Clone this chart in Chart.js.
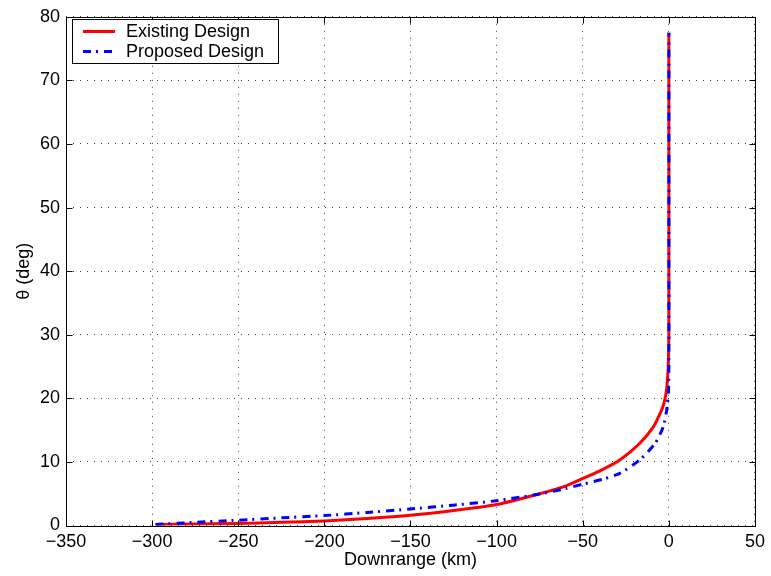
<!DOCTYPE html>
<html>
<head>
<meta charset="utf-8">
<script src="https://cdn.jsdelivr.net/npm/chart.js@4.4.1/dist/chart.umd.min.js"></script>
<style>
  html, body { margin: 0; padding: 0; background: #fff; }
  #wrap { width: 771px; height: 576px; }
</style>
</head>
<body>
<div id="wrap"><canvas id="chartTheta" width="771" height="576"></canvas></div>
<script>
// Downrange (km) vs flight-path angle theta (deg)
const existingX = [-298, -275, -250, -225, -200, -175, -150, -125, -100, -75, -60, -50, -40, -28.5, -17, -9, -4.3, -2.8, -1.7, -1, -0.4, -0.15, 0, 0];
const existingY = [0.15, 0.22, 0.32, 0.5, 0.72, 1.1, 1.6, 2.35, 3.3, 5.0, 6.2, 7.4, 8.6, 10.3, 12.9, 15.5, 18.1, 19.3, 20.7, 22.3, 24.8, 27.5, 30, 77.5];

const proposedX = [-298, -275, -250, -225, -200, -175, -150, -125, -100, -75, -60, -50, -38, -28.5, -17, -8, -3.3, -1.3, -0.2, 0, 0];
const proposedY = [0.15, 0.5, 0.83, 1.2, 1.56, 2.05, 2.6, 3.2, 3.9, 4.95, 5.8, 6.5, 7.3, 8.2, 10.3, 12.9, 15.5, 18.1, 21.2, 25, 77.5];

const seriesLabels = ["Existing Design", "Proposed Design"];
const xTicks = [-350, -300, -250, -200, -150, -100, -50, 0, 50];
const yTicks = [0, 10, 20, 30, 40, 50, 60, 70, 80];

const FONT = "'Liberation Sans', Arial, Helvetica, sans-serif";

function toPoints(xs, ys) {
  return xs.map((x, i) => ({ x, y: ys[i] }));
}

function fmt(v) {
  return v < 0 ? "\u2212" + Math.abs(v) : String(v);
}

// frame, inward ticks and the boxed legend, MATLAB style
const framePlugin = {
  id: "frame",
  afterDatasetsDraw(chart) {
    const { ctx, chartArea: a, scales } = chart;
    ctx.save();
    ctx.strokeStyle = "#000";
    ctx.lineWidth = 1;
    ctx.setLineDash([]);
    const L = Math.round(a.left) + 0.5, R = Math.round(a.right) + 0.5;
    const T = Math.round(a.top) + 0.5, B = Math.round(a.bottom) + 0.5;
    ctx.strokeRect(L, T, R - L, B - T);

    const len = 6;
    ctx.beginPath();
    xTicks.forEach((v) => {
      const px = Math.round(scales.x.getPixelForValue(v)) + 0.5;
      ctx.moveTo(px, B); ctx.lineTo(px, B - len);
      ctx.moveTo(px, T); ctx.lineTo(px, T + len);
    });
    yTicks.forEach((v) => {
      const py = Math.round(scales.y.getPixelForValue(v)) + 0.5;
      ctx.moveTo(L, py); ctx.lineTo(L + len, py);
      ctx.moveTo(R, py); ctx.lineTo(R - len, py);
    });
    ctx.stroke();

    // legend box
    const bx = 72.5, by = 19.5, bw = 206, bh = 44;
    ctx.fillStyle = "#fff";
    ctx.fillRect(bx, by, bw, bh);
    ctx.strokeRect(bx, by, bw, bh);

    const rows = [31.5, 51.5];
    chart.data.datasets.forEach((ds, i) => {
      const y = rows[i];
      ctx.save();
      ctx.strokeStyle = ds.borderColor;
      ctx.lineWidth = ds.borderWidth;
      ctx.setLineDash(ds.borderDash || []);
      ctx.beginPath();
      ctx.moveTo(83, y); ctx.lineTo(115, y);
      ctx.stroke();
      ctx.restore();
      ctx.fillStyle = "#000";
      ctx.font = "18px " + FONT;
      ctx.textBaseline = "middle";
      ctx.fillText(ds.label, 126, y + 1);
    });
    ctx.restore();
  },
};

const gridOpts = {
  color: "#444",
  lineWidth: 1,
  drawTicks: false,
  tickLength: 0,
};

new Chart(document.getElementById("chartTheta").getContext("2d"), {
  type: "scatter",
  data: {
    datasets: [
      {
        label: seriesLabels[0],
        data: toPoints(existingX, existingY),
        showLine: true,
        borderColor: "#ff0000",
        borderWidth: 3,
        pointRadius: 0,
        tension: 0.2,
        fill: false,
        order: 2,
      },
      {
        label: seriesLabels[1],
        data: toPoints(proposedX, proposedY),
        showLine: true,
        borderColor: "#0000ff",
        borderWidth: 3,
        borderDash: [8, 5, 2, 6],
        pointRadius: 0,
        tension: 0.2,
        fill: false,
        order: 1,
      },
    ],
  },
  options: {
    responsive: false,
    animation: false,
    devicePixelRatio: 1,
    layout: { padding: { left: 0, right: 14.5, top: 12.7, bottom: 0 } },
    plugins: { legend: { display: false }, tooltip: { enabled: false } },
    scales: {
      x: {
        type: "linear",
        min: xTicks[0],
        max: xTicks[xTicks.length - 1],
        afterBuildTicks: (s) => { s.ticks = xTicks.map((v) => ({ value: v })); },
        afterFit: (s) => { s.height = 50.5; },
        ticks: { color: "#000", font: { family: FONT, size: 18 }, padding: 6, maxRotation: 0, callback: fmt },
        grid: gridOpts,
        border: { display: false, dash: [1, 6] },
        title: { display: true, text: "Downrange (km)", color: "#000", font: { family: FONT, size: 18 }, padding: { top: 0, bottom: 5 } },
      },
      y: {
        type: "linear",
        min: yTicks[0],
        max: yTicks[yTicks.length - 1],
        afterBuildTicks: (s) => { s.ticks = yTicks.map((v) => ({ value: v })); },
        afterFit: (s) => { s.width = 66; },
        ticks: { color: "#000", font: { family: FONT, size: 18 }, padding: 6, callback: fmt },
        grid: gridOpts,
        border: { display: false, dash: [1, 6] },
        title: { display: true, text: "\u03b8 (deg)", color: "#000", font: { family: FONT, size: 18 }, padding: { top: 13, bottom: 0 } },
      },
    },
  },
  plugins: [framePlugin],
});
</script>
</body>
</html>
